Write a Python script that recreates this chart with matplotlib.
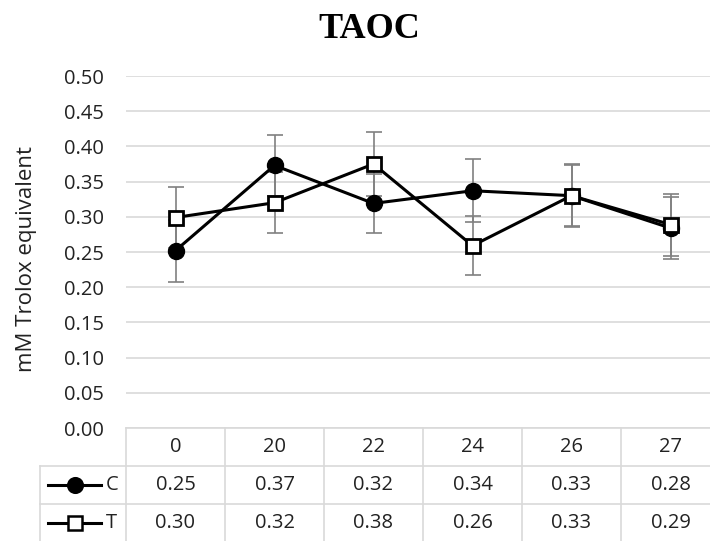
import matplotlib
matplotlib.use("Agg")
import matplotlib.pyplot as plt
from matplotlib.transforms import blended_transform_factory
from matplotlib.lines import Line2D

# data
days = ["0", "20", "22", "24", "26", "27"]
c_vals = [0.252, 0.373, 0.319, 0.337, 0.330, 0.284]
t_vals = [0.299, 0.320, 0.375, 0.259, 0.330, 0.289]
c_err = [0.044, 0.043, 0.042, 0.045, 0.043, 0.044]
t_err = [0.043, 0.043, 0.045, 0.042, 0.045, 0.044]
c_table = ["0.25", "0.37", "0.32", "0.34", "0.33", "0.28"]
t_table = ["0.30", "0.32", "0.38", "0.26", "0.33", "0.29"]
yticks = [0.0, 0.05, 0.10, 0.15, 0.20, 0.25, 0.30, 0.35, 0.40, 0.45, 0.50]

FONT = "Open Sans"
FS = 14.5
TXT = "#222222"
GRID = "#d9d9d9"
W, H = 710, 541

fig = plt.figure(figsize=(W / 100, H / 100), dpi=100)
# plot area in pixels: x 126..720 (runs past the right edge like the source), y 76..428
ax = fig.add_axes([126 / W, 1 - 428 / H, 594 / W, 352 / H])
x = list(range(len(days)))

ax.errorbar(x, c_vals, yerr=c_err, fmt="none", ecolor="#808080", elinewidth=1.2,
            capsize=6, capthick=1.2, zorder=2)
ax.errorbar(x, t_vals, yerr=t_err, fmt="none", ecolor="#808080", elinewidth=1.2,
            capsize=6, capthick=1.2, zorder=2)
ax.plot(x, c_vals, color="black", lw=2.2, marker="o", ms=11.5, mfc="black", mec="black", zorder=3)
ax.plot(x, t_vals, color="black", lw=2.2, marker="s", ms=10.5, mfc="white", mec="black",
        mew=2, zorder=4)

ax.set_xlim(-0.5, len(days) - 0.5)
ax.set_ylim(0, 0.5)
ax.set_yticks(yticks)
ax.set_yticklabels([f"{v:.2f}" for v in yticks], fontsize=FS, family=FONT, color=TXT)
ax.set_xticks([])
ax.tick_params(axis="y", length=0, pad=16)
for s in ax.spines.values():
    s.set_visible(False)
ax.grid(axis="y", color=GRID, lw=1.2)
ax.set_axisbelow(True)

fig.text(369 / W, 1 - 29 / H, "TAOC", ha="center", va="center", fontsize=26,
         fontweight="bold", family="Liberation Serif")
fig.text(27 / W, 1 - 259 / H, "mM Trolox equivalent", rotation=90, ha="center", va="center",
         fontsize=16, family=FONT, color=TXT)

# data table under the plot
ah = 352.0
rows = [0, -38 / ah, -76 / ah, -114 / ah]  # row borders in axes fraction
leg_left = (40 - 126) / 594
tr = blended_transform_factory(ax.transData, ax.transAxes)

def hline(x0, x1, y):
    ax.add_line(Line2D([x0, x1], [y, y], transform=ax.transAxes, color=GRID, lw=1.2,
                       clip_on=False))

def vline(xa, y0, y1):
    ax.add_line(Line2D([xa, xa], [y0, y1], transform=ax.transAxes, color=GRID, lw=1.2,
                       clip_on=False))

hline(0, 1.05, rows[0])
hline(leg_left, 1.05, rows[1])
hline(leg_left, 1.05, rows[2])
vline(leg_left, rows[1], rows[3])
for i in range(len(days) + 1):
    vline(i / len(days), rows[0], rows[3])

for i, d in enumerate(days):
    for r, s in [(0, d), (1, c_table[i]), (2, t_table[i])]:
        ax.text(i, (rows[r] + rows[r + 1]) / 2, s, transform=tr, ha="center", va="center",
                fontsize=FS, family=FONT, color=TXT)

# legend keys inside the table
for (r0, r1), lab, mk, fc in [((rows[1], rows[2]), "C", "o", "black"),
                              ((rows[2], rows[3]), "T", "s", "white")]:
    ym = (r0 + r1) / 2
    xa0, xa1 = (48 - 126) / 594, (101 - 126) / 594
    ax.add_line(Line2D([xa0, xa1], [ym, ym], transform=ax.transAxes, color="black", lw=2.2,
                       clip_on=False))
    ax.add_line(Line2D([(xa0 + xa1) / 2], [ym], transform=ax.transAxes, marker=mk, ms=10.5,
                       mfc=fc, mec="black", mew=1.8, clip_on=False))
    ax.text((106 - 126) / 594, ym, lab, transform=ax.transAxes, ha="left", va="center",
            fontsize=FS, family=FONT, color=TXT)

fig.savefig("out.png", dpi=100)
